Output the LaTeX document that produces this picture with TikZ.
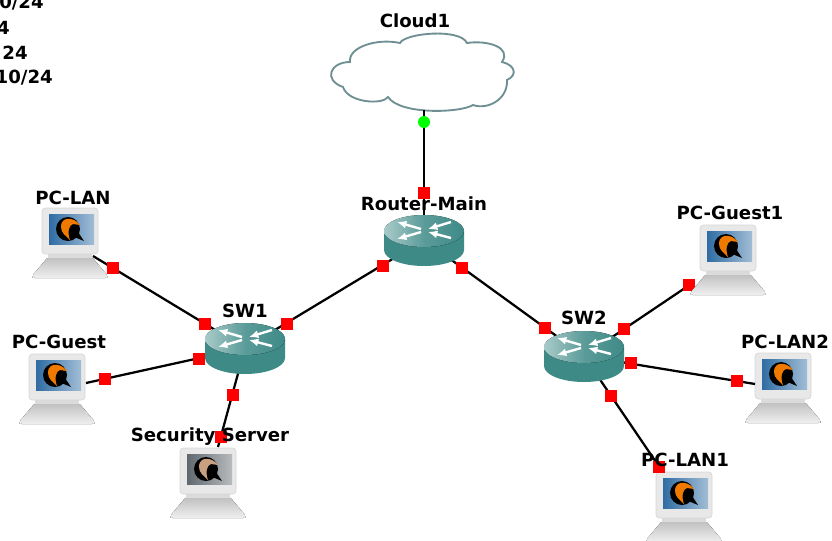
\documentclass[tikz,border=0pt]{standalone}
\usepackage{fontspec}
\setmainfont{DejaVu Sans}
\usetikzlibrary{arrows.meta}

\definecolor{portred}{HTML}{FF0000}
\definecolor{linkgreen}{HTML}{00FF00}
\definecolor{cloudedge}{HTML}{6F8F94}
\definecolor{routerteal}{HTML}{3E8A87}
\definecolor{pcblue}{HTML}{2F6CA3}
\definecolor{pcgrey}{HTML}{60686E}
\definecolor{birdorange}{HTML}{F07A00}
\definecolor{birdtan}{HTML}{C8A080}

\tikzset{
    link/.style={line width=1.7pt, black},
    portmark/.style={fill=portred, inner sep=0pt, minimum size=9pt},
    greenmark/.style={circle, fill=linkgreen, inner sep=0pt, minimum size=9pt},
    devlabel/.style={font=\bfseries\fontsize{13.6}{13.6}\selectfont, inner sep=0pt},
    pics/pcicon/.style 2 args={code={
        \fill[top color=black!25, bottom color=black!6, rounded corners=1.5pt] (-22, 49) -- (22, 49) -- (38, 68) -- (37, 70) -- (-37, 70) -- (-38, 68) -- cycle;
        \fill[black!14] (-22, 45) rectangle (22, 50);
        \fill[black!9, draw=black!16, line width=0.5pt, rounded corners=2.5pt] (-28, 0) rectangle (28, 46);
        \fill[left color=#1, right color=#1!45!white] (-21, 6) rectangle (24, 36);
        \fill[black] (-2, 21) circle [radius=12];
        \fill[black] (2, 28) -- (14, 33) -- (8, 24) -- cycle;
        \fill[#2] (-9, 19) .. controls (-9, 12) and (-4, 10) .. (0, 11) .. controls (3, 11) and (7, 13) .. (10, 17) -- (3, 16) .. controls (-1, 17) and (-3, 24) .. (0, 32) .. controls (-4, 28) and (-9, 25) .. (-9, 19) -- cycle;
    }},
    pics/routericon/.style={code={
        \fill[routerteal] (-40, -9) -- (-40, 10) arc [start angle=180, end angle=0, x radius=40, y radius=16] -- (40, -9) -- cycle;
        \fill[left color=routerteal!45!white, right color=routerteal, middle color=routerteal!85!white] (0, -9) ellipse [x radius=40, y radius=16];
        \begin{scope}[white, line width=1.8pt, -{Latex[length=7pt, width=6pt]}]
            \draw (-3, -11) -- (-27, -18);
            \draw (27, -18) -- (4, -11);
            \draw (-3, -8) -- (-27, -1);
            \draw (27, -2) -- (4, -8);
        \end{scope}
    }},
}

\begin{document}
\begin{tikzpicture}[x=0.75pt, y=-0.75pt]
    \useasboundingbox (0, 0) rectangle (832, 540);
    % address lines cut by the page edge
    \node[devlabel, anchor=east] (addrA) at (44, 3) {0/24};
    \node[devlabel, anchor=east] (addrB) at (10, 28) {4};
    \node[devlabel, anchor=east] (addrC) at (28, 53) {24};
    \node[devlabel, anchor=east] (addrD) at (53, 78) {10/24};

    % hosts
    \pic at (70, 208) {pcicon={pcblue}{birdorange}};
    \pic at (57, 354) {pcicon={pcblue}{birdorange}};
    \pic at (208, 448) {pcicon={pcgrey}{birdtan}};
    \pic at (684, 472) {pcicon={pcblue}{birdorange}};
    \pic at (783, 353) {pcicon={pcblue}{birdorange}};

    % cloud
    \draw[cloudedge, fill=white, line width=1.4pt] (350, 62)
        .. controls (348, 47) and (377, 38) .. (400, 43)
        .. controls (405, 33) and (460, 28) .. (467, 43)
        .. controls (487, 40) and (512, 47) .. (502, 62)
        .. controls (515, 65) and (518, 75) .. (507, 80)
        .. controls (508, 100) and (487, 110) .. (473, 105)
        .. controls (460, 113) and (400, 115) .. (388, 97)
        .. controls (383, 105) and (348, 103) .. (343, 87)
        .. controls (323, 80) and (330, 62) .. (350, 62) -- cycle;

    \coordinate (Cloud1) at (424, 110);
    \coordinate (RouterMain) at (424, 240);
    \coordinate (SW1) at (245, 348);
    \coordinate (SW2) at (584, 356);
    \coordinate (PCLAN) at (93, 256);
    \coordinate (PCGuest) at (86, 383);
    \coordinate (SecurityServer) at (218, 447);
    \coordinate (PCGuestOne) at (685, 288);
    \coordinate (PCLANTwo) at (755, 384);
    \coordinate (PCLANOne) at (660, 468);

    \draw[link] (Cloud1) -- (RouterMain);
    \draw[link] (RouterMain) -- (SW1);
    \draw[link] (RouterMain) -- (SW2);
    \draw[link] (SW1) -- (PCLAN);
    \draw[link] (SW1) -- (PCGuest);
    \draw[link] (SW1) -- (SecurityServer);
    \draw[link] (SW2) -- (PCGuestOne);
    \draw[link] (SW2) -- (PCLANTwo);
    \draw[link] (SW2) -- (PCLANOne);

    \foreach \name/\px/\py in {
        pCloud/424/193, pRouterL/383/266, pRouterR/462/268,
        pSWa/287/324, pSWb/205/324, pSWc/199/359, pSWd/233/395,
        pLAN/113/268, pGuest/105/379, pSecurity/221/437,
        pSWe/545/328, pSWf/624/329, pSWg/631/363, pSWh/611/396,
        pGuestOne/689/285, pLANTwo/737/381, pLANOne/659/467} {
        \node[portmark] (\name) at (\px, \py) {};
    }
    \node[greenmark] (pGreen) at (424, 122) {};

    \pic at (728, 225) {pcicon={pcblue}{birdorange}};
    \pic at (RouterMain) {routericon};
    \pic at (SW1) {routericon};
    \pic at (SW2) {routericon};

    \node[devlabel] (lCloud) at (415, 21) {Cloud1};
    \node[devlabel] (lRouter) at (424, 204) {Router-Main};
    \node[devlabel] (lSWa) at (245, 311) {SW1};
    \node[devlabel] (lSWb) at (584, 318) {SW2};
    \node[devlabel] (lLAN) at (73, 198) {PC-LAN};
    \node[devlabel] (lGuest) at (59, 342) {PC-Guest};
    \node[devlabel] (lSecurity) at (210, 437) {Security Server};
    \node[devlabel] (lGuestOne) at (730, 213) {PC-Guest1};
    \node[devlabel] (lLANTwo) at (785, 342) {PC-LAN2};
    \node[devlabel] (lLANOne) at (685, 460) {PC-LAN1};
\end{tikzpicture}
\end{document}
